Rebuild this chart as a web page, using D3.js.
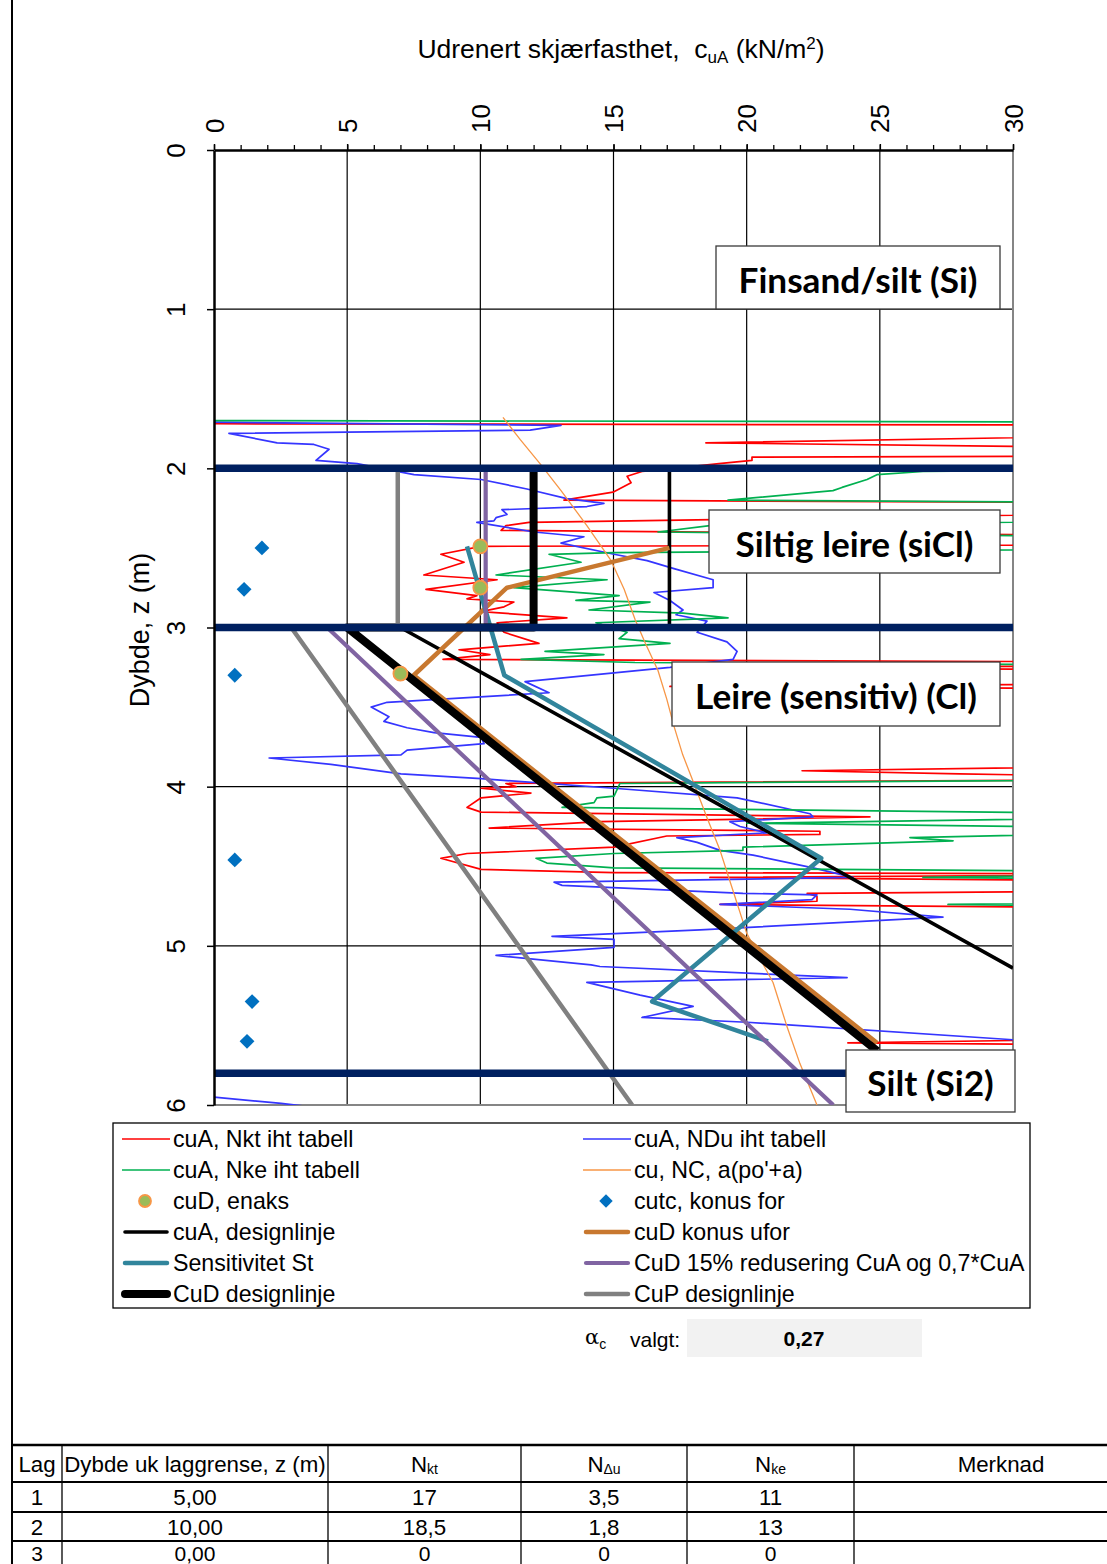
<!DOCTYPE html>
<html><head><meta charset="utf-8">
<script src="https://cdn.jsdelivr.net/npm/d3@7"></script>
<style>
html,body{margin:0;padding:0;background:#fff;}
svg{display:block;font-family:"Liberation Sans",Arial,sans-serif;}
text{white-space:pre;}
</style></head><body>
<svg id="c" width="1107" height="1564"></svg>
<script>
// ---------------- DATA ----------------
const xTicks = [0,5,10,15,20,25,30];
const xTickLabels = ["0","5","10","15","20","25","30"];
const yTicks = [0,1,2,3,4,5,6];
const yTickLabels = ["0","1","2","3","4","5","6"];

// [cu (kN/m2), z (m)] ; values > 30 lie off the chart to the right
const cuA_Nkt = [[0,1.72],[40,1.73],[40,1.78],[18.47,1.84],[40,1.88],[40,1.92],[20.2,1.93],[20.2,1.95],[18.96,1.97],[16.75,2.01],[16.07,2.02],[15.51,2.05],[15.66,2.09],[15.32,2.12],[14.98,2.15],[13.14,2.20],[40,2.22],[40,2.27],[11.83,2.34],[10.96,2.36],[10.78,2.39],[40,2.43],[40,2.48],[10.03,2.49],[8.52,2.54],[9.39,2.59],[7.88,2.67],[10.63,2.70],[7.96,2.76],[9.87,2.80],[9.5,2.82],[11.26,2.84],[10.89,2.87],[10.03,2.90],[13.25,2.94],[10.63,2.97],[10.74,3.00],[10.89,3.03],[12.2,3.10],[9.2,3.14],[10.36,3.17],[8.6,3.20],[40,3.22],[40,3.24],[17.27,3.25],[40,3.27],[40,3.35],[17.12,3.37],[40,3.39],[40,3.86],[22.08,3.90],[28.0,3.92],[40,3.95],[10.96,3.98],[11.34,4.00],[10.03,4.01],[11.9,4.04],[10.03,4.07],[9.5,4.13],[10.03,4.16],[24.63,4.19],[14.49,4.22],[10.33,4.26],[22.75,4.28],[22.75,4.30],[17.0,4.31],[15.02,4.38],[9.5,4.42],[8.52,4.45],[10.03,4.52],[15.02,4.54],[40,4.55],[18.62,4.57],[40,4.60],[40,4.65],[22.27,4.67],[22.64,4.69],[22.64,4.72],[19.0,4.74],[40,4.77],[40,5.57],[23.8,5.61],[40,5.63],[40,6.1]];

const cuA_NDu = [[0,1.71],[13.03,1.73],[11.87,1.76],[0.56,1.78],[2.37,1.84],[3.75,1.85],[4.32,1.88],[3.83,1.95],[5.37,1.97],[7.51,2.04],[10.03,2.07],[11.75,2.13],[13.25,2.19],[14.64,2.22],[14.0,2.24],[10.81,2.26],[11.0,2.29],[10.59,2.31],[10.51,2.33],[9.87,2.34],[12.02,2.40],[13.89,2.43],[13.03,2.47],[15.02,2.54],[16.26,2.58],[17.27,2.63],[18.74,2.70],[18.74,2.75],[16.52,2.78],[17.12,2.83],[17.61,2.89],[17.35,2.92],[18.51,2.96],[18.14,3.03],[19.26,3.09],[19.64,3.15],[19.49,3.20],[17.12,3.25],[11.68,3.34],[12.58,3.41],[6.5,3.47],[5.9,3.50],[6.57,3.56],[6.38,3.59],[7.25,3.63],[8.26,3.66],[10.03,3.69],[10.14,3.73],[7.25,3.77],[7.02,3.80],[2.07,3.82],[4.39,3.86],[7.02,3.92],[10.03,3.95],[15.02,4.01],[19.64,4.07],[22.38,4.17],[22.49,4.19],[19.37,4.22],[19.75,4.25],[20.76,4.29],[17.38,4.32],[18.14,4.35],[19.0,4.40],[20.24,4.43],[22.49,4.51],[23.99,4.57],[12.77,4.60],[13.07,4.62],[19.86,4.67],[22.64,4.68],[22.45,4.71],[19.0,4.74],[23.88,4.77],[27.37,4.82],[18.25,4.90],[12.69,4.94],[15.02,4.96],[15.02,5.01],[10.59,5.06],[14.16,5.12],[14.49,5.13],[23.77,5.20],[14.0,5.23],[16.0,5.31],[17.99,5.38],[16.07,5.45],[20.01,5.48],[30.0,5.59],[40,5.62],null,[0,5.95],[2.52,5.99],[5.1,6.04]];

const cuA_Nke = [[0,1.70],[40,1.71],[40,2.00],[26.62,2.02],[24.89,2.04],[24.52,2.07],[23.58,2.12],[23.24,2.14],[19.3,2.20],[40,2.22],[40,2.32],[18.62,2.36],[16.67,2.40],[40,2.44],[40,2.50],[15.02,2.53],[12.58,2.54],[13.78,2.59],[10.59,2.67],[14.76,2.70],[11.26,2.75],[15.21,2.80],[13.59,2.83],[16.37,2.84],[14.08,2.89],[17.61,2.91],[19.3,2.94],[14.34,2.97],[15.51,3.03],[15.21,3.07],[17.12,3.10],[12.43,3.15],[14.64,3.17],[11.53,3.20],[15.81,3.22],[40,3.24],[40,3.95],[15.24,3.98],[15.02,4.06],[14.38,4.07],[14.27,4.10],[13.07,4.13],[40,4.18],[20.01,4.23],[40,4.27],[26.13,4.32],[27.75,4.34],[19.86,4.38],[19.86,4.40],[15.02,4.42],[12.09,4.45],[12.5,4.48],[15.02,4.51],[40,4.54],[26.62,4.57],[40,4.59],[40,4.72],[27.56,4.74],[40,4.76],[40,6.1]];

const cu_NC = [[10.85,1.68],[11.5,1.82],[12.24,1.97],[13.03,2.14],[14.0,2.36],[14.91,2.58],[15.4,2.76],[15.81,2.95],[16.2,3.10],[16.67,3.27],[17.0,3.45],[17.27,3.62],[17.6,3.80],[18.02,3.98],[18.5,4.19],[19.0,4.40],[19.5,4.66],[20.0,4.92],[20.5,5.08],[20.99,5.23],[21.5,5.50],[22.0,5.74],[22.64,6.0]];

const cuD_enaks = [[10.0,2.49],[10.0,2.75],[7.0,3.29]];
const cutc_konusFor = [[1.8,2.50],[1.13,2.76],[0.78,3.30],[0.78,4.46],[1.43,5.35],[1.24,5.60]];
const cuA_design = [[17.1,2.0],[17.1,3.0],[7.0,3.0],[30,5.14]];
const cuD_konusUfor = [[17.1,2.50],[11.0,2.75],[7.5,3.30],[24.9,5.61]];
const sensitivitetSt = [[9.5,2.49],[10.9,3.30],[22.8,4.45],[16.45,5.35],[20.8,5.60]];
const cuD_15red = [[10.2,2.0],[10.2,3.0],[4.25,3.0],[23.25,6.0]];
const cuD_design = [[12.0,2.0],[12.0,3.0],[5.0,3.0],[24.9,5.66]];
const cuP_design = [[6.9,2.0],[6.9,3.0],[2.9,3.0],[15.7,6.0]];

const layerBoundaries = [2.0, 3.0, 5.8];
const layerLabels = ["Finsand/silt (Si)","Siltig leire (siCl)","Leire (sensitiv) (Cl)","Silt (Si2)"];

const legendNames = ["cuA, Nkt iht tabell","cuA, NDu iht tabell","cuA, Nke iht tabell","cu, NC, a(po'+a)","cuD, enaks","cutc, konus for","cuA, designlinje","cuD konus ufor","Sensitivitet St","CuD 15% redusering CuA og 0,7*CuA","CuD designlinje","CuP designlinje"];

const alphaValue = "0,27";
const tableHeader = [["Lag",""],["Dybde uk laggrense, z (m)",""],["N","kt"],["N","Δu"],["N","ke"],["Merknad",""]];
const tableRows = [["1","5,00","17","3,5","11",""],["2","10,00","18,5","1,8","13",""],["3","0,00","0","0","0",""]];

// ---------------- LAYOUT / STYLE ----------------
const FONT = '"Liberation Sans", Arial, sans-serif';
const styles = [
  {type:"line", color:"#FF0000", w:1.7},
  {type:"line", color:"#3535FF", w:1.7},
  {type:"line", color:"#00B050", w:1.7},
  {type:"line", color:"#F79646", w:1.3},
  {type:"circle", fill:"#9BBB59", stroke:"#F79646"},
  {type:"diamond", fill:"#0070C0"},
  {type:"line", color:"#000000", w:3.6},
  {type:"line", color:"#C8782F", w:4.5},
  {type:"line", color:"#31859C", w:4.5},
  {type:"line", color:"#8064A2", w:4.2},
  {type:"line", color:"#000000", w:8},
  {type:"line", color:"#808080", w:4.5}
];
const seriesData = [cuA_Nkt, cuA_NDu, cuA_Nke, cu_NC, cuD_enaks, cutc_konusFor, cuA_design, cuD_konusUfor, sensitivitetSt, cuD_15red, cuD_design, cuP_design];
const labelBoxes = [{x0:716,x1:1000,y0:246,y1:309,tw:239},{x0:709,x1:1000,y0:510,y1:573,tw:238},{x0:672,x1:1000,y0:662,y1:726,tw:285},{x0:846,x1:1015,y0:1050,y1:1112,tw:125}];

const svg = d3.select("#c");
const x = d3.scaleLinear().domain([0,30]).range([214,1013]);
const y = d3.scaleLinear().domain([0,6]).range([150,1105]);

svg.append("defs").append("clipPath").attr("id","clip").append("rect")
  .attr("x",x(0)).attr("y",y(0)).attr("width",x(30)-x(0)).attr("height",y(6)-y(0));

// page rule at left
svg.append("line").attr("x1",12).attr("x2",12).attr("y1",0).attr("y2",1564).attr("stroke","#000").attr("stroke-width",2);

// gridlines
const grid = svg.append("g");
grid.selectAll(".vg").data(xTicks.filter(d=>d>0 && d<30)).join("line")
  .attr("x1",d=>x(d)).attr("x2",d=>x(d)).attr("y1",y(0)).attr("y2",y(6)).attr("stroke","#000").attr("stroke-width",1.2);
grid.selectAll(".hg").data(yTicks.filter(d=>d>0 && d<6)).join("line")
  .attr("x1",x(0)).attr("x2",x(30)).attr("y1",d=>y(d)).attr("y2",d=>y(d)).attr("stroke","#000").attr("stroke-width",1.2);
grid.append("line").attr("x1",x(30)).attr("x2",x(30)).attr("y1",y(0)).attr("y2",y(6)).attr("stroke","#858585").attr("stroke-width",2);
grid.append("line").attr("x1",x(0)).attr("x2",x(30)).attr("y1",y(6)).attr("y2",y(6)).attr("stroke","#858585").attr("stroke-width",2);

// series
const line = d3.line().defined(d=>d!=null).x(d=>x(d[0])).y(d=>y(d[1]));
const plotG = svg.append("g").attr("clip-path","url(#clip)");
seriesData.forEach((data,i)=>{
  const s = styles[i];
  if(s.type==="line"){
    plotG.append("path").datum(data).attr("d",line).attr("fill","none")
      .attr("stroke",s.color).attr("stroke-width",s.w).attr("stroke-linejoin","round");
  }
});
// layer boundary lines
plotG.selectAll(".layer").data(layerBoundaries).join("line")
  .attr("x1",x(0)).attr("x2",x(30)).attr("y1",d=>y(d)).attr("y2",d=>y(d))
  .attr("stroke","#002060").attr("stroke-width",7.5);
// markers
seriesData.forEach((data,i)=>{
  const s = styles[i];
  if(s.type==="circle"){
    plotG.selectAll(null).data(data).join("circle").attr("cx",d=>x(d[0])).attr("cy",d=>y(d[1])).attr("r",7)
      .attr("fill",s.fill).attr("stroke",s.stroke).attr("stroke-width",1.8);
  } else if(s.type==="diamond"){
    plotG.selectAll(null).data(data).join("path").attr("d",d3.symbol(d3.symbolSquare, 110))
      .attr("transform",d=>`translate(${x(d[0])},${y(d[1])}) rotate(45)`).attr("fill",s.fill);
  }
});

// axes
const gx = svg.append("g").attr("transform",`translate(0,${y(0)})`)
  .call(d3.axisTop(x).tickValues(xTicks).tickSize(6).tickSizeOuter(0).tickFormat((d,i)=>xTickLabels[i]));
const gxm = svg.append("g").attr("transform",`translate(0,${y(0)})`)
  .call(d3.axisTop(x).tickValues(d3.range(0,31,1)).tickSize(5).tickSizeOuter(0).tickFormat(""));
gxm.select(".domain").remove();
gxm.selectAll(".tick line").attr("stroke","#000").attr("stroke-width",1.3);
gx.attr("font-size",26).attr("font-family",FONT);
gx.select(".domain").attr("stroke","#000").attr("stroke-width",2.5);
gx.selectAll(".tick line").attr("stroke","#000").attr("stroke-width",1.5);
gx.selectAll(".tick text").attr("x",0).attr("y",0).attr("dy",null).attr("fill","#000")
  .attr("transform","translate(0,-17) rotate(-90)").attr("text-anchor","start").attr("dominant-baseline","central");

const gy = svg.append("g").attr("transform",`translate(${x(0)},0)`)
  .call(d3.axisLeft(y).tickValues(yTicks).tickSize(7).tickSizeOuter(0).tickFormat((d,i)=>yTickLabels[i]));
gy.attr("font-size",26).attr("font-family",FONT);
gy.select(".domain").attr("stroke","#000").attr("stroke-width",2.5);
gy.selectAll(".tick line").attr("stroke","#000").attr("stroke-width",1.5);
gy.selectAll(".tick text").attr("x",0).attr("y",0).attr("dy",null).attr("fill","#000")
  .attr("transform","translate(-38,0) rotate(-90)").attr("text-anchor","middle").attr("dominant-baseline","central");

// titles
const t = svg.append("text").attr("x",621).attr("y",58).attr("text-anchor","middle").attr("font-size",26.5).attr("fill","#000");
t.append("tspan").text("Udrenert skjærfasthet,  c");
t.append("tspan").attr("font-size",17).attr("dy",5).text("uA");
t.append("tspan").attr("dy",-5).text(" (kN/m");
t.append("tspan").attr("font-size",17).attr("dy",-9).text("2");
t.append("tspan").attr("dy",9).text(")");
svg.append("text").attr("transform","translate(140,630) rotate(-90)").attr("text-anchor","middle")
  .attr("dominant-baseline","central").attr("font-size",27).text("Dybde, z (m)");

// layer label boxes
const lbG = svg.append("g");
const lbTexts = [];
layerLabels.forEach((lab,i)=>{
  const b = labelBoxes[i];
  lbG.append("rect").attr("x",b.x0).attr("y",b.y0).attr("width",b.x1-b.x0).attr("height",b.y1-b.y0)
    .attr("fill","#fff").attr("stroke","#3a3a3a").attr("stroke-width",1.3);
  const tx = lbG.append("text").attr("x",(b.x0+b.x1)/2).attr("y",(b.y0+b.y1)/2+1).attr("text-anchor","middle")
    .attr("dominant-baseline","central").attr("font-family","Lato, 'Open Sans', sans-serif").attr("font-weight",700)
    .attr("font-size",30).attr("fill","#000").text(lab);
  lbTexts.push(tx);
});
let fac = 0;
lbTexts.forEach((tx,i)=>{ fac += labelBoxes[i].tw / tx.node().getComputedTextLength(); });
fac /= lbTexts.length;
lbTexts.forEach(tx=>tx.attr("font-size",30*fac));

// legend
const lg = svg.append("g").attr("font-size",23.2);
lg.append("rect").attr("x",113).attr("y",1123).attr("width",917).attr("height",185).attr("fill","#fff").attr("stroke","#000").attr("stroke-width",1.3);
legendNames.forEach((name,i)=>{
  const col = i%2, row = Math.floor(i/2);
  const sx = col===0 ? 122 : 583;
  const cy = 1139 + row*31;
  const s = styles[i];
  if(s.type==="line"){
    lg.append("line").attr("x1",sx+ (s.w>3?3:0)).attr("x2",sx+48-(s.w>3?3:0)).attr("y1",cy).attr("y2",cy)
      .attr("stroke",s.color).attr("stroke-width",s.w).attr("stroke-linecap",s.w>3?"round":"butt");
  } else if(s.type==="circle"){
    lg.append("circle").attr("cx",sx+23).attr("cy",cy).attr("r",6).attr("fill",s.fill).attr("stroke",s.stroke).attr("stroke-width",1.8);
  } else {
    lg.append("path").attr("d",d3.symbol(d3.symbolSquare,90)).attr("transform",`translate(${sx+23},${cy}) rotate(45)`).attr("fill",s.fill);
  }
  lg.append("text").attr("x",sx+51).attr("y",cy).attr("dominant-baseline","central").attr("fill","#000").text(name);
});

// alpha_c
const ag = svg.append("g");
const at = ag.append("text").attr("x",585).attr("y",1344).attr("font-size",21).attr("font-family","'DejaVu Serif', serif");
at.append("tspan").text("α");
at.append("tspan").attr("font-size",14).attr("dy",5).attr("font-family",FONT).text("c");
ag.append("text").attr("x",630).attr("y",1339).attr("dominant-baseline","central").attr("font-size",21).text("valgt:");
ag.append("rect").attr("x",687).attr("y",1319).attr("width",235).attr("height",38).attr("fill","#F2F2F2");
ag.append("text").attr("x",804).attr("y",1338).attr("text-anchor","middle").attr("dominant-baseline","central")
  .attr("font-size",21).attr("font-weight",700).text(alphaValue);

// table
const colX = [12,62,328,521,687,854,1148];
const rowY = [1445,1482,1512,1541];
const rowCY = [1497,1527,1553];
const tg = svg.append("g").attr("font-size",22.3);
rowY.forEach((yy,i)=>{
  tg.append("line").attr("x1",12).attr("x2",1107).attr("y1",yy).attr("y2",yy).attr("stroke","#000").attr("stroke-width",i===0?2.5:2);
});
colX.slice(1,6).forEach(xx=>{
  tg.append("line").attr("x1",xx).attr("x2",xx).attr("y1",1445).attr("y2",1564).attr("stroke","#000").attr("stroke-width",1.3);
});
tableHeader.forEach((h,j)=>{
  const cx = (colX[j]+colX[j+1])/2;
  const tx = tg.append("text").attr("x",cx).attr("y",1464).attr("text-anchor","middle").attr("dominant-baseline","central");
  tx.append("tspan").text(h[0]);
  if(h[1]) tx.append("tspan").attr("font-size",14).attr("dy",5).text(h[1]);
});
tableRows.forEach((r,i)=>{
  r.forEach((v,j)=>{
    if(v==="") return;
    tg.append("text").attr("x",(colX[j]+colX[j+1])/2).attr("y",rowCY[i])
      .attr("text-anchor","middle").attr("dominant-baseline","central").attr("font-size",i===2?21:22.3).text(v);
  });
});
</script>
</body></html>
